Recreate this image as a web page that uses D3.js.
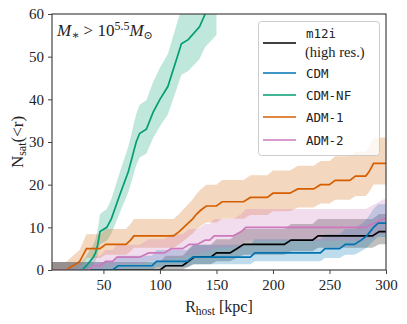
<!DOCTYPE html>
<html>
  <head>
    <meta charset="utf-8" />
    <script src="https://d3js.org/d3.v7.min.js"></script>
    <style>
      body { margin: 0; background: #fff; }
      text { font-family: "Liberation Serif", "DejaVu Serif", serif; fill: #222; }
      .mono { font-family: "DejaVu Sans Mono", monospace; }
    </style>
  </head>
  <body>
    <div id="my_chart"></div>
    <script>
      // m12i (high res.)
      const m12iR = [4.5, 100, 105, 120, 125, 130, 145, 150, 162, 168, 174, 210, 216, 235, 240, 288, 294, 300];
      const m12iN = [0, 0, 1, 1, 2, 3, 3, 4, 4, 5, 6, 6, 7, 7, 8, 8, 9, 9];
      const m12iLo = [0, 0, 0.13, 0.13, 0.68, 1.34, 1.34, 2.06, 2.06, 2.82, 3.6, 3.6, 4.4, 4.4, 5.22, 5.22, 6.04, 6.04];
      const m12iHi = [1.87, 1.87, 3.32, 3.32, 4.66, 5.94, 5.94, 7.18, 7.18, 8.4, 9.6, 9.6, 10.78, 10.78, 11.96, 11.96, 13.12, 13.12];

      // CDM
      const cdmR = [4.5, 58, 63, 93, 97, 124, 129, 180, 184, 242, 246, 259, 264, 272, 278, 283, 286, 289, 293, 300];
      const cdmN = [0, 0, 1, 1, 2, 2, 3, 3, 4, 4, 5, 5, 6, 6, 7, 8, 9, 10, 11, 11];
      const cdmLo = [0, 0, 0.13, 0.13, 0.68, 0.68, 1.34, 1.34, 2.06, 2.06, 2.82, 2.82, 3.6, 3.6, 4.4, 5.22, 6.04, 6.88, 7.72, 7.72];
      const cdmHi = [1.87, 1.87, 3.32, 3.32, 4.66, 4.66, 5.94, 5.94, 7.18, 7.18, 8.4, 8.4, 9.6, 9.6, 10.78, 11.96, 13.12, 14.28, 15.43, 15.43];

      // CDM-NF
      const nfR = [4.5, 31, 35, 38, 41, 43, 45, 47, 53, 57, 61, 65, 72, 75, 79, 82, 88, 94, 100, 107, 113, 119, 125, 135, 140, 150];
      const nfN = [0, 0, 1, 2, 3, 4, 6, 9, 10, 12, 15, 18, 23, 26, 30, 32, 33, 37, 40, 43, 48, 53, 54, 57, 60, 63];
      const nfLo = [0, 0, 0.13, 0.68, 1.34, 2.06, 3.6, 6.04, 6.88, 8.57, 11.16, 13.79, 18.23, 20.93, 24.55, 26.37, 27.28, 30.94, 33.69, 36.46, 41.09, 45.74, 46.67, 49.47, 52.27, 55.08];
      const nfHi = [1.87, 1.87, 3.32, 4.66, 5.94, 7.18, 9.6, 13.12, 14.28, 16.57, 19.97, 23.33, 28.87, 32.17, 36.55, 38.72, 39.81, 44.14, 47.38, 50.61, 55.98, 61.33, 62.4, 65.6, 68.79, 71.98];

      // ADM-1
      const adm1R = [4.5, 17, 23, 29, 31, 33, 35, 47, 52, 70, 74, 77, 112, 117, 121, 125, 129, 132, 136, 141, 150, 155, 174, 180, 195, 200, 215, 222, 236, 242, 250, 255, 268, 273, 282, 285, 289, 300];
      const adm1N = [0, 0, 1, 2, 3, 4, 5, 5, 6, 6, 7, 8, 8, 9, 10, 11, 12, 13, 14, 15, 15, 16, 16, 17, 17, 18, 18, 19, 19, 20, 20, 21, 21, 22, 22, 23, 25, 25];
      const adm1Lo = [0, 0, 0.13, 0.68, 1.34, 2.06, 2.82, 2.82, 3.6, 3.6, 4.4, 5.22, 5.22, 6.04, 6.88, 7.72, 8.57, 9.43, 10.29, 11.16, 11.16, 12.03, 12.03, 12.91, 12.91, 13.79, 13.79, 14.67, 14.67, 15.56, 15.56, 16.45, 16.45, 17.34, 17.34, 18.23, 20.03, 20.03];
      const adm1Hi = [1.87, 1.87, 3.32, 4.66, 5.94, 7.18, 8.4, 8.4, 9.6, 9.6, 10.78, 11.96, 11.96, 13.12, 14.28, 15.43, 16.57, 17.71, 18.84, 19.97, 19.97, 21.09, 21.09, 22.21, 22.21, 23.33, 23.33, 24.44, 24.44, 25.56, 25.56, 26.66, 26.66, 27.77, 27.77, 28.87, 31.07, 31.07];

      // ADM-2
      const adm2R = [4.5, 37, 41, 47, 52, 58, 62, 82, 90, 104, 110, 120, 126, 133, 140, 144, 148, 165, 172, 176, 282, 290, 298, 300];
      const adm2N = [0, 0, 1, 1, 2, 2, 3, 3, 4, 4, 5, 5, 6, 6, 7, 7, 8, 8, 9, 10, 10, 11, 12, 12];
      const adm2Lo = [0, 0, 0.13, 0.13, 0.68, 0.68, 1.34, 1.34, 2.06, 2.06, 2.82, 2.82, 3.6, 3.6, 4.4, 4.4, 5.22, 5.22, 6.04, 6.88, 6.88, 7.72, 8.57, 8.57];
      const adm2Hi = [1.87, 1.87, 3.32, 3.32, 4.66, 4.66, 5.94, 5.94, 7.18, 7.18, 8.4, 8.4, 9.6, 9.6, 10.78, 10.78, 11.96, 11.96, 13.12, 14.28, 14.28, 15.43, 16.57, 16.57];

      const xTicks = [50, 100, 150, 200, 250, 300];
      const yTicks = [0, 10, 20, 30, 40, 50, 60];

      const series = [
        { name: "m12i", color: "#000000", r: m12iR, n: m12iN, lo: m12iLo, hi: m12iHi },
        { name: "CDM", color: "#0173b2", r: cdmR, n: cdmN, lo: cdmLo, hi: cdmHi },
        { name: "CDM-NF", color: "#029e73", r: nfR, n: nfN, lo: nfLo, hi: nfHi },
        { name: "ADM-1", color: "#d55e00", r: adm1R, n: adm1N, lo: adm1Lo, hi: adm1Hi },
        { name: "ADM-2", color: "#cc78bc", r: adm2R, n: adm2N, lo: adm2Lo, hi: adm2Hi },
      ];

      const W = 407, H = 324;
      const m = { left: 52, right: 386, top: 14, bottom: 270 };

      const svg = d3.select("#my_chart").append("svg")
        .attr("width", W).attr("height", H);

      const x = d3.scaleLinear().domain([4.5, 300]).range([m.left, m.right]);
      const y = d3.scaleLinear().domain([0, 60]).range([m.bottom, m.top]);

      svg.append("clipPath").attr("id", "clip")
        .append("rect").attr("x", m.left).attr("y", m.top)
        .attr("width", m.right - m.left).attr("height", m.bottom - m.top);

      const plot = svg.append("g").attr("clip-path", "url(#clip)");

      // bands
      series.forEach((s) => {
        const pts = s.r.map((r, i) => ({ r: r, lo: s.lo[i], hi: s.hi[i] }));
        plot.append("path")
          .datum(pts)
          .attr("fill", s.color)
          .attr("fill-opacity", 0.25)
          .attr("d", d3.area().x((d) => x(d.r)).y0((d) => y(d.lo)).y1((d) => y(d.hi)));
      });

      // median lines
      series.forEach((s) => {
        const pts = s.r.map((r, i) => ({ r: r, n: s.n[i] }));
        plot.append("path")
          .datum(pts)
          .attr("fill", "none")
          .attr("stroke", s.color)
          .attr("stroke-width", 1.7)
          .attr("d", d3.line().x((d) => x(d.r)).y((d) => y(d.n)));
      });

      // axes
      const gx = svg.append("g").attr("transform", `translate(0,${m.bottom})`)
        .call(d3.axisBottom(x).tickValues(xTicks).tickSize(4).tickPadding(5));
      const gy = svg.append("g").attr("transform", `translate(${m.left},0)`)
        .call(d3.axisLeft(y).tickValues(yTicks).tickSize(4).tickPadding(4));
      [gx, gy].forEach((g) => {
        g.select(".domain").remove();
        g.selectAll("line").attr("stroke", "#444").attr("stroke-width", 1);
        g.selectAll("text").style("font-family", "'Liberation Serif', serif")
          .style("font-size", "15px").attr("fill", "#222");
      });

      // frame
      svg.append("rect").attr("x", m.left).attr("y", m.top)
        .attr("width", m.right - m.left).attr("height", m.bottom - m.top)
        .attr("fill", "none").attr("stroke", "#444").attr("stroke-width", 1.2);

      // axis labels
      const xl = svg.append("text").attr("x", (m.left + m.right) / 2).attr("y", 312)
        .attr("text-anchor", "middle").style("font-size", "16px");
      xl.append("tspan").text("R");
      xl.append("tspan").attr("dy", 3).style("font-size", "11.5px").text("host");
      xl.append("tspan").attr("dy", -3).text(" [kpc]");

      const yl = svg.append("text")
        .attr("transform", `translate(23,${(m.top + m.bottom) / 2}) rotate(-90)`)
        .attr("text-anchor", "middle").style("font-size", "17px");
      yl.append("tspan").text("N");
      yl.append("tspan").attr("dy", 3).style("font-size", "12px").text("sat");
      yl.append("tspan").attr("dy", -3).text("(<r)");

      // annotation
      const ann = svg.append("text").attr("x", 57).attr("y", 36).style("font-size", "17px");
      ann.append("tspan").style("font-style", "italic").text("M");
      ann.append("tspan").attr("dy", 3).style("font-size", "12px").text("∗");
      ann.append("tspan").attr("dy", -3).text(" > 10");
      ann.append("tspan").attr("dy", -6).style("font-size", "12px").text("5.5");
      ann.append("tspan").attr("dy", 6).style("font-style", "italic").text("M");
      ann.append("tspan").attr("dy", 3).style("font-size", "11px").text("⊙");

      // legend
      const lg = svg.append("g");
      lg.append("rect").attr("x", 258.5).attr("y", 21.5).attr("width", 121).attr("height", 134)
        .attr("rx", 3).attr("fill", "#fff").attr("fill-opacity", 0.8)
        .attr("stroke", "#ccc").attr("stroke-width", 1);
      const rows = [
        { s: series[0], y: 43 },
        { s: series[1], y: 73 },
        { s: series[2], y: 95 },
        { s: series[3], y: 117 },
        { s: series[4], y: 140 },
      ];
      rows.forEach((row) => {
        lg.append("line").attr("x1", 263).attr("x2", 296).attr("y1", row.y).attr("y2", row.y)
          .attr("stroke", row.s.color).attr("stroke-width", 1.7);
        if (row.s.name !== "m12i") {
          lg.append("text").attr("class", "mono").attr("x", 306).attr("y", row.y + 4.5)
            .style("font-size", "12.5px").text(row.s.name);
        }
      });
      lg.append("text").attr("class", "mono").attr("x", 306).attr("y", 37.5)
        .style("font-size", "12.5px").text("m12i");
      lg.append("text").attr("x", 305).attr("y", 56.5)
        .style("font-size", "14.5px").text("(high res.)");
    </script>
  </body>
</html>
